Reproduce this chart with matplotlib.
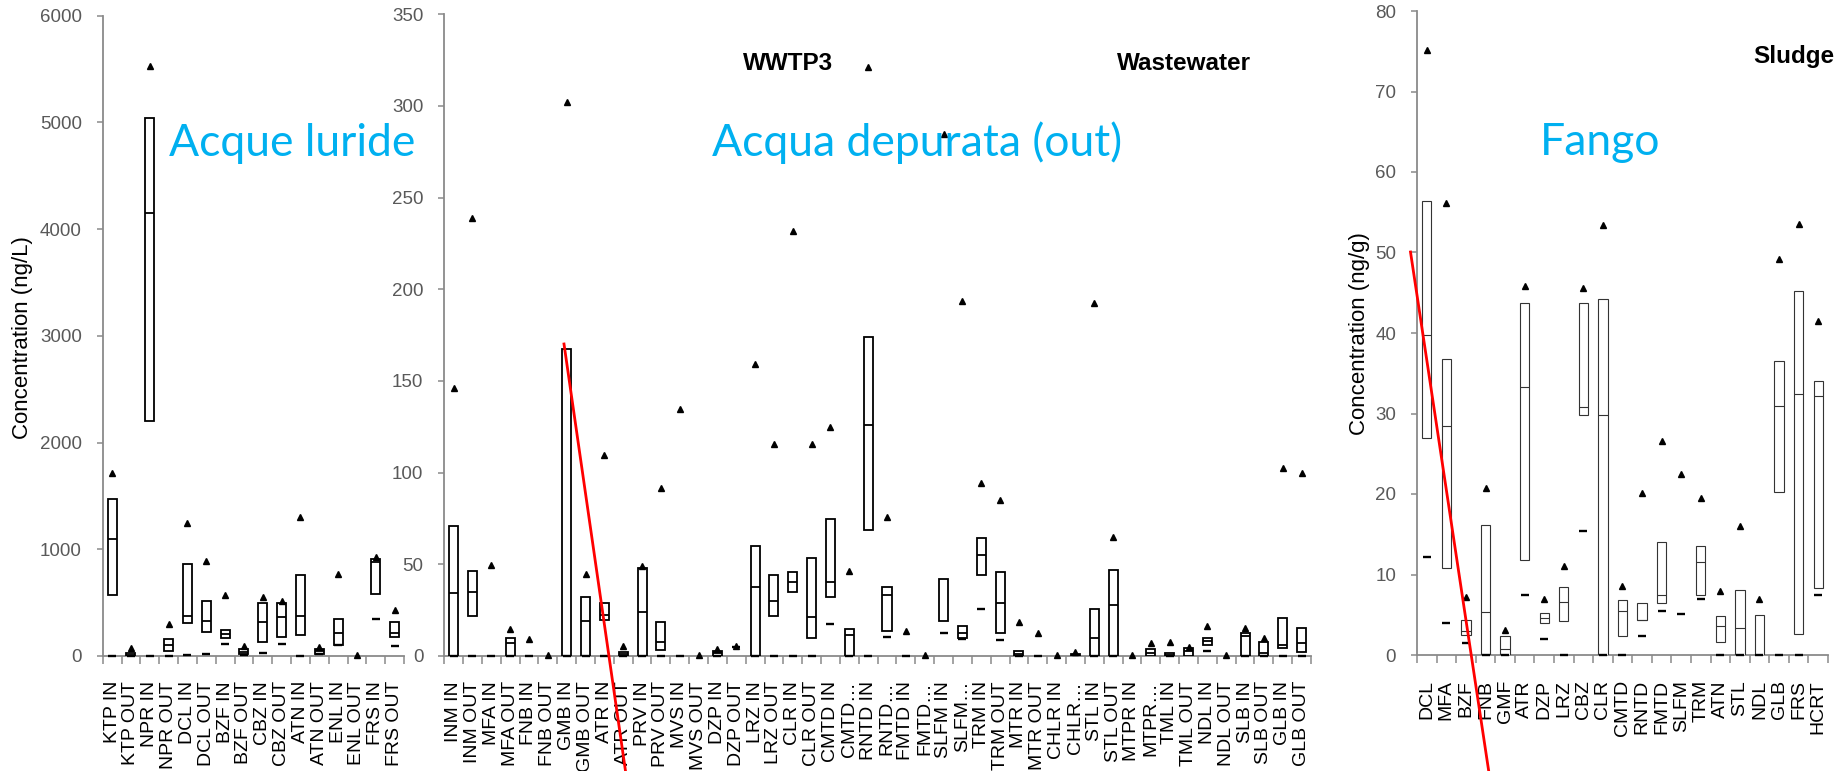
import numpy as np
import matplotlib
matplotlib.use('Agg')
import matplotlib.pyplot as plt
from matplotlib.lines import Line2D

nan = np.nan

# ---------------- Panel 1: Acque luride (ng/L) ----------------
raw_labels = ["KTP IN", "KTP OUT", "NPR IN", "NPR OUT", "DCL IN", "DCL OUT",
              "BZF IN", "BZF OUT", "CBZ IN", "CBZ OUT", "ATN IN", "ATN OUT",
              "ENL IN", "ENL OUT", "FRS IN", "FRS OUT"]
raw_q1 = [572, 0, 2200, 47, 313, 222, 172, 15, 134, 175, 197, 20, 103, nan, 578, 181]
raw_med = [1094, 10, 4154, 103, 375, 328, 203, 40, 322, 362, 375, 45, 212, nan, 884, 212]
raw_q3 = [1472, 25, 5044, 159, 859, 519, 244, 65, 494, 494, 756, 70, 347, nan, 906, 322]
raw_max = [1711, 72, 5528, 297, 1244, 891, 572, 94, 556, 519, 1300, 85, 769, 5, 931, 431]
raw_min = [0, 0, 0, 0, 9, 19, 109, 10, 31, 109, 0, 15, 103, nan, 344, 97]

# ---------------- Panel 2: Acqua depurata (ng/L) ----------------
ww_labels = ["INM IN", "INM OUT", "MFA IN", "MFA OUT", "FNB IN", "FNB OUT",
             "GMB IN", "GMB OUT", "ATR IN", "ATR OUT", "PRV IN", "PRV OUT",
             "MVS IN", "MVS OUT", "DZP IN", "DZP OUT", "LRZ IN", "LRZ OUT",
             "CLR IN", "CLR OUT", "CMTD IN", "CMTD\u2026", "RNTD IN", "RNTD\u2026",
             "FMTD IN", "FMTD\u2026", "SLFM IN", "SLFM\u2026", "TRM IN", "TRM OUT",
             "MTR IN", "MTR OUT", "CHLR IN", "CHLR\u2026", "STL IN", "STL OUT",
             "MTPR IN", "MTPR\u2026", "TML IN", "TML OUT", "NDL IN", "NDL OUT",
             "SLB IN", "SLB OUT", "GLB IN", "GLB OUT"]
ww_q1 = [0, 21.8, nan, 0, nan, nan, 0, 0, 19.6, 0, 0, 3.3,
         nan, nan, 0, nan, 0, 21.8, 35.1, 9.6, 32.4, 0, 68.7, 13.8,
         nan, nan, 19.3, 10.0, 44.2, 12.7, 0, nan, nan, 0, 0, 0,
         nan, 0, 0, 0, 6.0, nan, 0, 0, 4.2, 2.4]
ww_med = [34.2, 34.7, nan, 7.3, nan, nan, 0, 19.3, 22.4, 1.0, 24.2, 7.8,
          nan, nan, 1.5, nan, 37.5, 30.2, 40.2, 21.1, 40.2, 11.5, 126.2, 33.3,
          nan, nan, nan, 12.4, 55.1, 29.1, 1.3, nan, nan, 0.5, 9.6, 27.8,
          nan, 1.5, 0.8, 2.7, 8.4, nan, 10.9, 1.8, 5.8, 7.3]
ww_q3 = [70.9, 46.5, nan, 9.6, nan, nan, 167.5, 32.4, 29.1, 2.0, 47.8, 18.7,
         nan, nan, 2.8, nan, 60.0, 44.2, 46.0, 53.3, 74.7, 14.5, 174.1, 37.8,
         nan, nan, 42.0, 16.4, 64.2, 46.0, 2.7, nan, nan, 1.2, 25.5, 46.9,
         nan, 3.6, 1.8, 4.2, 9.6, nan, 12.4, 7.8, 20.5, 15.1]
ww_max = [146, 239, 49.6, 14.7, 9.1, 0.5, 302, 44.7, 109.8, 5.5, 49.3, 91.5,
          134.7, 0.5, 3.6, 5.6, 159.4, 115.5, 231.8, 115.5, 124.7, 46.4, 321, 75.6,
          13.8, 0.5, 284.9, 193.7, 94.5, 85.1, 18.7, 12.4, 0.5, 2.0, 192.4, 64.7,
          0.3, 6.9, 7.5, 4.7, 16.5, 0.3, 15.1, 9.6, 102.4, 99.6]
ww_min = [0, 0, 0, 0, 0, nan, 0, 0, 0, 0, 0, 0,
          0, nan, 0, 4.8, 0, 0, 0, 0, 17.5, 0, 0, 10.5,
          0, nan, 12.7, 9.3, 25.5, 8.7, 0, 0, nan, nan, 0, 0,
          nan, nan, 0, nan, 2.9, nan, 0, 0, 0, 0]

# ---------------- Panel 3: Fango (ng/g) ----------------
sl_labels = ["DCL", "MFA", "BZF", "FNB", "GMF", "ATR", "DZP", "LRZ", "CBZ", "CLR",
             "CMTD", "RNTD", "FMTD", "SLFM", "TRM", "ATN", "STL", "NDL", "GLB",
             "FRS", "HCRT"]
sl_q1 = [27.0, 10.8, 2.5, 0, 0, 11.8, 4.0, 4.2, 29.8, 0, 2.4, 4.3, 6.4, nan,
         7.4, 1.6, 0, 0, 20.3, 2.6, 8.3]
sl_med = [39.7, 28.4, 3.0, 5.4, 0.7, 33.3, 4.6, 6.6, 30.8, 29.8, 5.5, 4.4, 7.5, nan,
          11.5, 3.6, 3.4, 0, 30.9, 32.4, 32.2]
sl_q3 = [56.4, 36.8, 4.3, 16.1, 2.4, 43.7, 5.2, 8.5, 43.7, 44.2, 6.8, 6.4, 14.0, nan,
         13.5, 4.8, 8.1, 5.0, 36.5, 45.2, 34.0]
sl_max = [75.2, 56.1, 7.2, 20.8, 3.1, 45.8, 6.9, 11.1, 45.6, 53.4, 8.6, 20.1, 26.6,
          22.5, 19.5, 8.0, 16.0, 7.0, 49.2, 53.6, 41.5]
sl_min = [12.2, 4.0, 1.5, 0, 0, 7.5, 2.0, 0, 15.4, 0, 0, 2.3, 5.5, 5.1,
          7.0, 0, 0, 0, 0, 0, 7.5]

W, H = 1841, 771
fig = plt.figure(figsize=(W / 100, H / 100), dpi=100)
GRAY = '#8a8a8a'
TXT = 'Liberation Sans'


def px_axes(x0, y0, x1, y1):
    return fig.add_axes([x0 / W, 1 - y1 / H, (x1 - x0) / W, (y1 - y0) / H])


def draw(ax, labels, q1, med, q3, vmax, vmin, ymax, ystep, lw, ecol):
    n = len(labels)
    x = np.arange(n) + 0.5
    q1a = np.array(q1, float)
    q3a = np.array(q3, float)
    meda = np.array(med, float)
    m = ~np.isnan(q1a)
    bw = 0.48
    ax.bar(x[m], (q3a - q1a)[m], bottom=q1a[m], width=bw, facecolor='white',
           edgecolor=ecol, linewidth=lw, zorder=3)
    mm = ~np.isnan(meda)
    ax.hlines(meda[mm], x[mm] - bw / 2, x[mm] + bw / 2, colors=ecol,
              linewidth=lw, zorder=4)
    ax.plot(x, np.array(vmax, float), linestyle='none', marker='^', ms=4.8,
            color='black', zorder=5, clip_on=False)
    ax.plot(x, np.array(vmin, float), linestyle='none', marker='_', ms=5.5,
            mew=1.7, color='black', zorder=5, clip_on=False)
    ax.set_xlim(0, n)
    ax.set_ylim(0, ymax)
    ax.set_xticks(x)
    ax.set_xticklabels(labels, rotation=90, fontsize=14, family=TXT,
                       color='black')
    ax.set_xticks(np.arange(n + 1), minor=True)
    ax.tick_params(axis='x', which='major', length=0, pad=18)
    ax.tick_params(axis='x', which='minor', length=6, color=GRAY, width=1.1)
    ax.set_yticks(np.arange(0, ymax + ystep / 2, ystep))
    ax.tick_params(axis='y', length=4, color=GRAY, width=1.1,
                   labelcolor='#595959', labelsize=13.5, pad=11)
    for lab in ax.get_yticklabels():
        lab.set_family(TXT)
    for s in ['top', 'right']:
        ax.spines[s].set_visible(False)
    for s in ['left', 'bottom']:
        ax.spines[s].set_color(GRAY)
        ax.spines[s].set_linewidth(1.3)
    ax.set_facecolor('none')


ax1 = px_axes(102.7, 15.5, 404, 656)
draw(ax1, raw_labels, raw_q1, raw_med, raw_q3, raw_max, raw_min, 6000, 1000, 1.3, 'black')

ax2 = px_axes(444.2, 14.3, 1311, 656)
draw(ax2, ww_labels, ww_q1, ww_med, ww_q3, ww_max, ww_min, 350, 50, 1.3, 'black')

ax3 = px_axes(1417, 11, 1828, 655)
draw(ax3, sl_labels, sl_q1, sl_med, sl_q3, sl_max, sl_min, 80, 10, 0.8, '#333333')


def ftext(x, y, s, **kw):
    fig.text(x / W, 1 - y / H, s, **kw)


# y-axis labels
ftext(23, 338, 'Concentration (ng/L)', rotation=90, ha='center', va='center',
      fontsize=16, family=TXT, color='black')
ftext(1359, 334, 'Concentration (ng/g)', rotation=90, ha='center', va='center',
      fontsize=16, family=TXT, color='black')

# bold panel titles
ftext(788.5, 63, 'WWTP3', ha='center', va='center', fontsize=17.5,
      fontweight='bold', family=TXT, color='black')
ftext(1183.5, 63, 'Wastewater', ha='center', va='center', fontsize=17.5,
      fontweight='bold', family=TXT, color='black')
ftext(1794, 56.5, 'Sludge', ha='center', va='center', fontsize=17.5,
      fontweight='bold', family=TXT, color='black')

# blue overlay annotations
BLUE = '#00B0F0'
ftext(292, 156, 'Acque luride', ha='center', va='baseline', fontsize=32,
      family='Lato', color=BLUE)
ftext(917, 156, 'Acqua depurata (out)', ha='center', va='baseline', fontsize=32,
      family='Lato', color=BLUE)
ftext(1600, 155, 'Fango', ha='center', va='baseline', fontsize=32,
      family='Lato', color=BLUE)

# red strike lines
fig.add_artist(Line2D([564 / W, 625.5 / W], [1 - 344 / H, 0], color='#FF0000',
                      linewidth=2.0, transform=fig.transFigure, zorder=10))
fig.add_artist(Line2D([1410.5 / W, 1488.7 / W], [1 - 252 / H, 0], color='#FF0000',
                      linewidth=2.0, transform=fig.transFigure, zorder=10))

fig.savefig('out.png', dpi=100, facecolor='white')
